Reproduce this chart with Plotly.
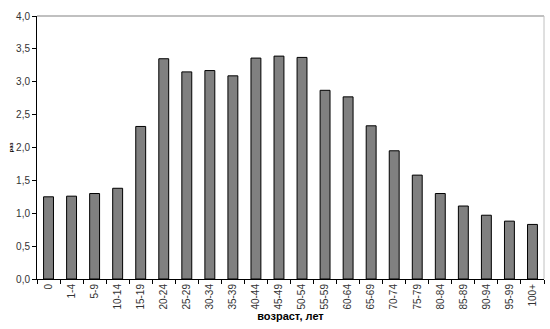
import plotly.graph_objects as go

categories = ["0", "1-4", "5-9", "10-14", "15-19", "20-24", "25-29", "30-34", "35-39",
              "40-44", "45-49", "50-54", "55-59", "60-64", "65-69", "70-74", "75-79",
              "80-84", "85-89", "90-94", "95-99", "100+"]
values = [1.25, 1.26, 1.30, 1.38, 2.32, 3.35, 3.15, 3.17, 3.09, 3.36, 3.39, 3.37,
          2.87, 2.77, 2.33, 1.95, 1.58, 1.30, 1.11, 0.97, 0.88, 0.83]
y_ticks = [0, 0.5, 1.0, 1.5, 2.0, 2.5, 3.0, 3.5, 4.0]
y_ticktext = ["0,0", "0,5", "1,0", "1,5", "2,0", "2,5", "3,0", "3,5", "4,0"]

fig = go.Figure(go.Bar(
    x=categories, y=values,
    marker=dict(color="#808080", line=dict(color="#000000", width=1)),
    width=0.43,
))

font = "Liberation Sans, Arial, sans-serif"
fig.update_layout(
    width=550, height=329,
    margin=dict(l=37, r=6, t=16, b=50),
    paper_bgcolor="white", plot_bgcolor="white",
    font=dict(family=font, size=10, color="#000000"),
    showlegend=False,
    xaxis=dict(
        type="category", tickangle=-90, ticks="outside", ticklen=4,
        tickson="boundaries", tickcolor="#000", showline=True, linecolor="#000",
        linewidth=1, showgrid=False, tickfont=dict(size=10, color="#333"),
        title=dict(text="<b>возраст, лет</b>", font=dict(size=11), standoff=3),
    ),
    yaxis=dict(
        range=[0, 4], tickvals=y_ticks, ticktext=y_ticktext, ticks="outside",
        ticklen=4, tickcolor="#000", showline=True, linecolor="#000", linewidth=1,
        showgrid=False, zeroline=False, tickfont=dict(size=10, color="#333"),
    ),
    annotations=[
        dict(text="<b>раз</b>", xref="paper", yref="paper", x=0, y=0.5,
             xshift=-32, textangle=-90, showarrow=False,
             font=dict(size=6, color="#000")),
    ],
    shapes=[
        dict(type="line", xref="paper", yref="paper", x0=0, x1=1, y0=1, y1=1,
             line=dict(color="#c0c0c0", width=2)),
        dict(type="line", xref="paper", yref="paper", x0=1, x1=1, y0=0, y1=1,
             line=dict(color="#c0c0c0", width=1)),
    ],
)

fig.write_html("out.html")
